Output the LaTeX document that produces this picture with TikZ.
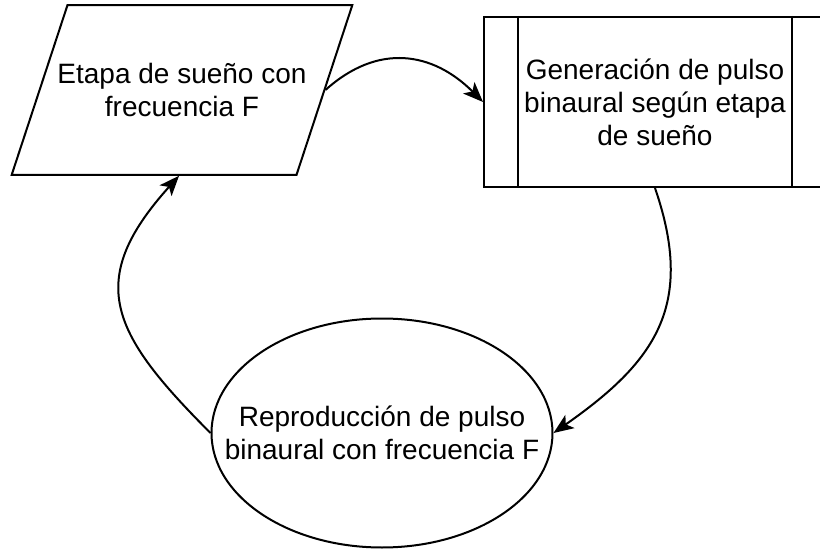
\documentclass[tikz,border=0pt]{standalone}
\usepackage{fontspec}
\setmainfont{Liberation Sans}
\usetikzlibrary{arrows.meta,shapes.geometric,positioning,calc}

\begin{document}
\begin{tikzpicture}[x=1pt,y=1pt,->,>={Stealth[length=20pt,width=16pt,inset=5pt]},
					align=center,line width=2pt,
					main node/.style={draw,font=\fontsize{28}{33}\selectfont,inner sep=0pt},
					io node/.style={main node,trapezium,trapezium left angle=71.8,trapezium right angle=108.2,
						trapezium stretches body,inner xsep=-10pt,inner ysep=58pt},
					proc node/.style={main node,rectangle,minimum width=342pt,minimum height=170pt},
					end node/.style={main node,ellipse,inner xsep=-37pt,minimum width=341pt,minimum height=229pt}]

					\useasboundingbox (0,0) rectangle (820,550);

					\node[io node] (1) at (182,460) {Etapa de sueño con\\frecuencia F};
					\node[proc node] (2) at (655,448) {Generación de pulso\\binaural según etapa\\de sueño};
					\node[end node] (3) at (382,117) {Reproducción de pulso\\binaural con frecuencia F};

					% bars of the process box
					\draw[-] ([xshift=35pt]2.north west) -- ([xshift=35pt]2.south west);
					\draw[-] ([xshift=-35pt]2.north east) -- ([xshift=-35pt]2.south east);

					% middle of the slanted right side
					\coordinate (1r) at ($(1.top right corner)!.5!(1.bottom right corner)$);

					\path
					(1r) edge [out=42,in=135,looseness=1.15] (2.west)
					(2.south) edge [out=-71,in=35,looseness=1.2] (3.east)
					(3.west) edge [out=135,in=-132,looseness=1.4] (1.268);

				\end{tikzpicture}
\end{document}
